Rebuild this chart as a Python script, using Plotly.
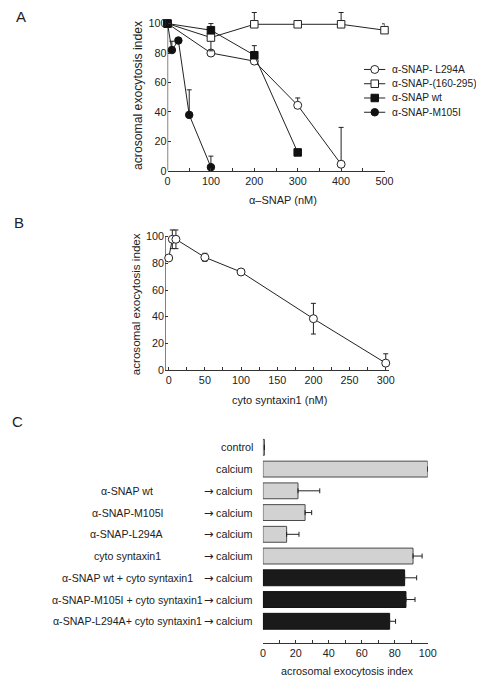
import plotly.graph_objects as go

W, H = 484, 678
FONT = "Liberation Sans, Arial, sans-serif"
INK = "#222222"

# ---------------- Panel A data ----------------
a_m105i_x = [0, 10, 25, 50, 100]
a_m105i_y = [100, 82, 88.5, 38, 2.5]
a_m105i_err = [None, 6, None, 17, 7.5]

a_l294a_x = [0, 100, 200, 300, 400]
a_l294a_y = [100, 80, 74.5, 44.5, 4.5]
a_l294a_err = [None, None, None, 5, 25]

a_frag_x = [0, 100, 200, 300, 400, 500]
a_frag_y = [100, 90.5, 99.5, 99.5, 99.5, 95.5]
a_frag_err = [None, None, 8, None, 8, 4.3]
a_frag_errminus = [None, 9, None, None, None, None]

a_wt_x = [0, 100, 200, 300]
a_wt_y = [100, 95.5, 78.5, 12.5]
a_wt_err = [None, 4.5, 6.5, 1.5]

legend_names = ["α-SNAP- L294A", "α-SNAP-(160-295)", "α-SNAP wt", "α-SNAP-M105I"]

# ---------------- Panel B data ----------------
b_x = [0, 5, 10, 50, 100, 200, 300]
b_y = [84, 98, 98, 84.5, 73.5, 38.5, 5.2]
b_err_plus = [None, 7, 7, 3, None, 11.5, 7]
b_err_minus = [None, 7, 7, 3, None, 11.5, None]

# ---------------- Panel C data ----------------
c_left = ["", "", "α-SNAP wt", "α-SNAP-M105I", "α-SNAP-L294A", "cyto syntaxin1",
          "α-SNAP wt + cyto syntaxin1", "α-SNAP-M105I + cyto syntaxin1",
          "α-SNAP-L294A+ cyto syntaxin1"]
c_right = ["control", "calcium", "calcium", "calcium", "calcium", "calcium",
           "calcium", "calcium", "calcium"]
c_arrow = [False, False, True, True, True, True, True, True, True]
c_values = [0.9, 100, 21.3, 25.6, 14.4, 91.1, 86, 86.8, 76.9]
c_err = [None, None, 13.2, 4, 7.5, 5.5, 7.3, 5.5, 3.6]
c_dark = [False, False, False, False, False, False, True, True, True]


def px(x):
    return x / W


def py(y):
    return 1 - y / H


fig = go.Figure()

open_mk = dict(color="white", line=dict(color=INK, width=1))
fill_mk = dict(color="#111111", line=dict(color="#111111", width=1))


def err(plus, minus=None):
    d = dict(type="data", array=plus, color=INK, thickness=1, width=2.5, visible=True,
             symmetric=False)
    d["arrayminus"] = minus if minus is not None else [None] * len(plus)
    return d


series_A = [
    (a_m105i_x, a_m105i_y, err(a_m105i_err), "circle", 7.5, fill_mk),
    (a_l294a_x, a_l294a_y, err(a_l294a_err), "circle", 8, open_mk),
    (a_frag_x, a_frag_y, err(a_frag_err, a_frag_errminus), "square", 7.5, open_mk),
    (a_wt_x, a_wt_y, err(a_wt_err), "square", 7.5, fill_mk),
]
for xs, ys, e, sym, sz, mk in series_A:
    fig.add_trace(go.Scatter(
        x=xs, y=ys, mode="lines+markers", xaxis="x", yaxis="y",
        line=dict(color=INK, width=1),
        marker=dict(symbol=sym, size=sz, **mk),
        error_y=e, cliponaxis=False, showlegend=False, hoverinfo="skip"))

# manual legend keys (panel A)
legend_styles = [("circle", 8, open_mk), ("square", 7.5, open_mk),
                 ("square", 7.5, fill_mk), ("circle", 7.5, fill_mk)]
for i, (name, (sym, sz, mk)) in enumerate(zip(legend_names, legend_styles)):
    fig.add_trace(go.Scatter(x=[0, 1], y=[i, i], mode="lines", xaxis="x4", yaxis="y4",
                             line=dict(color=INK, width=1), showlegend=False,
                             hoverinfo="skip", cliponaxis=False))
    fig.add_trace(go.Scatter(x=[0.5], y=[i], mode="markers", xaxis="x4", yaxis="y4",
                             marker=dict(symbol=sym, size=sz, **mk), showlegend=False,
                             hoverinfo="skip", cliponaxis=False))

# Panel B
fig.add_trace(go.Scatter(
    x=b_x, y=b_y, mode="lines+markers", xaxis="x2", yaxis="y2",
    line=dict(color=INK, width=1),
    marker=dict(symbol="circle", size=8, **open_mk),
    error_y=err(b_err_plus, b_err_minus), cliponaxis=False,
    showlegend=False, hoverinfo="skip"))

# Panel C
idx = list(range(len(c_values)))
fig.add_trace(go.Bar(
    x=c_values, y=idx, orientation="h", xaxis="x3", yaxis="y3", width=0.73,
    marker=dict(color=["#1a1a1a" if d else "#d2d2d2" for d in c_dark],
                line=dict(color=["#111111" if d else "#4a4a4a" for d in c_dark], width=1)),
    error_x=dict(type="data", array=c_err, symmetric=False,
                 arrayminus=[None] * len(c_err), color=INK, thickness=1, width=2.5),
    showlegend=False, hoverinfo="skip"))

axis_common = dict(showgrid=False, zeroline=False, ticks="inside", ticklen=3,
                   tickcolor="#333333", tickwidth=1, color=INK,
                   tickfont=dict(family=FONT, size=10.8, color=INK))

fig.update_layout(
    width=W, height=H, margin=dict(l=0, r=0, t=0, b=0),
    paper_bgcolor="white", plot_bgcolor="white",
    font=dict(family=FONT, color=INK),
    showlegend=False,
    xaxis=dict(domain=[px(160.5), px(383)], range=[0, 500], anchor="y",
               showline=True, linecolor="#333333", linewidth=1,
               tick0=0, dtick=100,
               minor=dict(dtick=50, ticks="inside", ticklen=3, tickcolor="#333333"),
               **axis_common),
    yaxis=dict(domain=[py(164.3), py(0.84)], range=[0, 110], anchor="x",
               showline=False, tick0=0, dtick=20, **axis_common),
    xaxis2=dict(domain=[px(158), px(388)], range=[-5, 305], anchor="y2",
                showline=True, linecolor="#333333", linewidth=1,
                tick0=0, dtick=50,
                minor=dict(dtick=25, ticks="inside", ticklen=3, tickcolor="#333333"),
                **axis_common),
    yaxis2=dict(domain=[py(365.3), py(219.9)], range=[0, 108], anchor="x2",
                showline=False, tick0=0, dtick=20, **axis_common),
    xaxis3=dict(domain=[px(258.3), px(427.3)], range=[0, 100], anchor="y3",
                showline=True, linecolor="#333333", linewidth=1,
                tick0=0, dtick=20,
                minor=dict(dtick=10, ticks="inside", ticklen=3, tickcolor="#333333"),
                **axis_common),
    yaxis3=dict(domain=[py(640.7), py(430.1)], range=[9.0, -0.6], anchor="x3",
                visible=False, showgrid=False, zeroline=False),
    xaxis4=dict(domain=[px(362), px(384)], range=[0, 1], anchor="y4",
                visible=False, showgrid=False, zeroline=False),
    yaxis4=dict(domain=[py(112.4), py(54.8)], range=[3.5, -0.5], anchor="x4",
                visible=False, showgrid=False, zeroline=False),
)

# y-axis lines that stop at 100
fig.add_shape(type="line", xref="x", yref="y", x0=0, x1=0, y0=0, y1=100,
              line=dict(color="#444444", width=1.3), layer="below")
fig.add_shape(type="line", xref="x2", yref="y2", x0=-5, x1=-5, y0=0, y1=100,
              line=dict(color="#444444", width=1.3), layer="below")

ann = []


def text(t, x, y, size, xanchor="center", yanchor="middle", angle=0, xref="paper",
         yref="paper", family=FONT):
    ann.append(dict(text=t, x=x, y=y, xref=xref, yref=yref, showarrow=False,
                    xanchor=xanchor, yanchor=yanchor, textangle=angle, borderpad=0,
                    font=dict(family=family, size=size, color=INK)))


# panel letters
text("A", px(10), py(9), 15)
text("B", px(8), py(216), 15)
text("C", px(7), py(417), 15)

# axis titles
text("acrosomal exocytosis index", px(130), py(88), 12.2, angle=-90)
text("α–SNAP (nM)", px(279), py(194), 11)
text("acrosomal exocytosis index", px(128), py(299), 11.6, angle=-90)
text("cyto syntaxin1 (nM)", px(275), py(395), 11)
text("acrosomal exocytosis index", px(345), py(669), 10.8)

# legend labels
for i, name in enumerate(legend_names):
    text(name, px(390), i, 10.2, xanchor="left", yref="y4")

# panel C row labels
for i in idx:
    text(c_right[i], px(249.5), i, 10.8, xanchor="right", yref="y3")
    if c_arrow[i]:
        text("→", px(203), i, 11.5, yref="y3", family="DejaVu Sans")
    if c_left[i]:
        text(c_left[i], px(119), i, 10.6, yref="y3")

fig.update_layout(annotations=ann)
fig.write_html("out.html")
